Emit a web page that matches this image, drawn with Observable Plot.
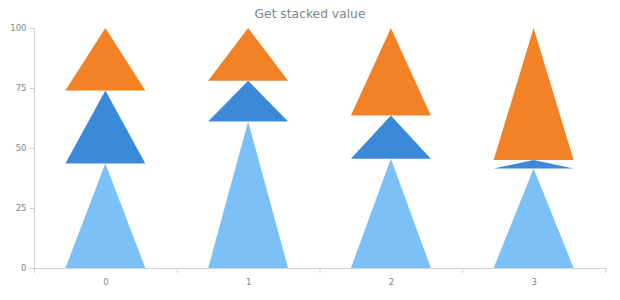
<!DOCTYPE html>
<html><head><meta charset="utf-8">
<script src="https://cdn.jsdelivr.net/npm/d3@7"></script>
<script src="https://cdn.jsdelivr.net/npm/@observablehq/plot@0.6"></script>
<style>
body{margin:0;background:#fff;font-family:"DejaVu Sans",sans-serif}
#title{height:22px;box-sizing:border-box;padding-top:7px;line-height:14px;text-align:center;font-size:12.3px;color:#7c868e;white-space:nowrap}
</style></head><body>
<div id="title">Get stacked value</div>
<div id="chart"></div>
<script>
const categories = ["0", "1", "2", "3"];
const seriesNames = ["Series 1", "Series 2", "Series 3"];
const series1 = [43.5, 61, 45.5, 41.5];
const series2 = [30.5, 17, 18, 3.5];
const series3 = [26, 22, 36.5, 55];
const yTicks = [0, 25, 50, 75, 100];
const colors = ["#64b5f6", "#1976d2", "#ef6c00"];

const seriesValues = [series1, series2, series3];
const halfWidth = 0.28; // triangle half-width in category units

// Build triangle outlines (stacked) for the area mark
const rows = [];
categories.forEach((cat, i) => {
  let base = 0;
  seriesValues.forEach((vals, k) => {
    const top = base + vals[i];
    const key = cat + "-" + k;
    const s = seriesNames[k];
    rows.push({key, series: s, x: i - halfWidth, y1: base, y2: base});
    rows.push({key, series: s, x: i, y1: base, y2: top});
    rows.push({key, series: s, x: i + halfWidth, y1: base, y2: base});
    base = top;
  });
});

const catIdx = categories.map((_, i) => i);
const bounds = d3.range(categories.length + 1).map(i => i - 0.5);

const chart = Plot.plot({
  width: 620,
  height: 278,
  marginLeft: 34,
  marginRight: 15,
  marginTop: 6,
  marginBottom: 32,
  style: {fontFamily: "DejaVu Sans, sans-serif", background: "white"},
  x: {type: "linear", domain: [-0.5, categories.length - 0.5], axis: null},
  y: {domain: [0, 100], axis: null},
  color: {domain: seriesNames, range: colors},
  marks: [
    Plot.areaY(rows, {x: "x", y1: "y1", y2: "y2", z: "key", fill: "series", fillOpacity: 0.85}),
    Plot.frame({anchor: "left", stroke: "#d3d3d3"}),
    Plot.frame({anchor: "bottom", stroke: "#d3d3d3"}),
    Plot.axisY({ticks: yTicks, tickSize: 4, tickPadding: 4, fontSize: 8.5, stroke: "#d3d3d3", fill: "#7c868e", label: null}),
    Plot.axisX({ticks: bounds, tickSize: 5, text: null, stroke: "#d3d3d3", label: null}),
    Plot.axisX({ticks: catIdx, tickSize: 0, tickPadding: 10, fontSize: 8.5, fill: "#7c868e", tickFormat: i => categories[i], label: null})
  ]
});
document.getElementById("chart").appendChild(chart);
</script>
</body></html>
